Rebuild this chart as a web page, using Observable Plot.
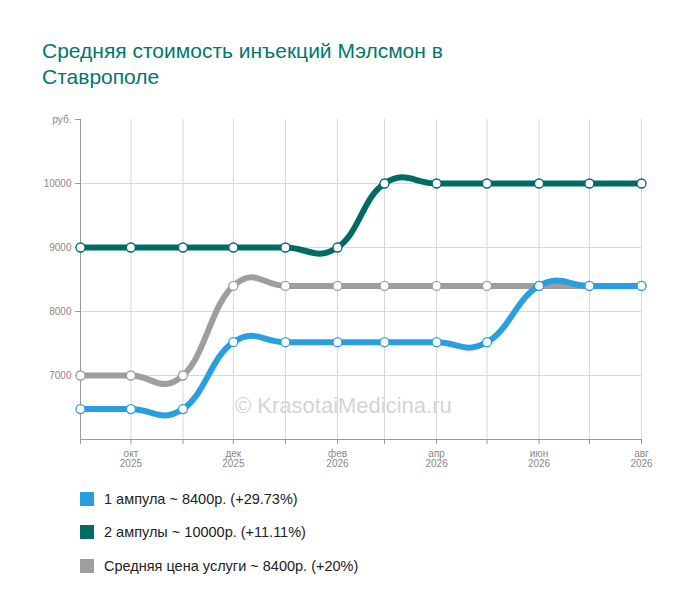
<!DOCTYPE html>
<html><head><meta charset="utf-8">
<script src="https://cdn.jsdelivr.net/npm/d3@7"></script>
<script src="https://cdn.jsdelivr.net/npm/@observablehq/plot@0.6"></script>
<style>
body{margin:0;background:#fff;font-family:Arial,"Liberation Sans",sans-serif;}
#t{position:absolute;left:42px;top:38px;font-size:21px;color:#00776b;line-height:26px;width:520px}
#c{position:absolute;left:0;top:105px}
#wm{position:absolute;left:235px;top:393px;font-size:22px;color:#d4d4d4}
.lg{position:absolute;left:80px;font-size:14.5px;color:#222;display:flex;align-items:center}
.lg span{display:inline-block;width:14px;height:14px;margin-right:10px}
</style></head><body>
<div id="t">Средняя стоимость инъекций Мэлсмон в Ставрополе</div>
<div id="c"></div>
<div id="wm">© KrasotaiMedicina.ru</div>
<div class="lg" style="top:491px"><span style="background:#2a9fdf"></span>1 ампула ~ 8400р. (+29.73%)</div>
<div class="lg" style="top:524px"><span style="background:#006b63"></span>2 ампулы ~ 10000р. (+11.11%)</div>
<div class="lg" style="top:558px"><span style="background:#9e9e9e"></span>Средняя цена услуги ~ 8400р. (+20%)</div>
<script>
const months=["2025-09","2025-10","2025-11","2025-12","2026-01","2026-02","2026-03","2026-04","2026-05","2026-06","2026-07","2026-08"];
const monthNames=["янв","фев","мар","апр","май","июн","июл","авг","сен","окт","ноя","дек"];
const amp1=[6475,6475,6475,7520,7520,7520,7520,7520,7520,8400,8400,8400];
const amp2=[9000,9000,9000,9000,9000,9000,10000,10000,10000,10000,10000,10000];
const avg=[7000,7000,7000,8400,8400,8400,8400,8400,8400,8400,8400,8400];
const yTicks=[7000,8000,9000,10000];
const series=[["amp2",amp2,"#006b63"],["avg",avg,"#9e9e9e"],["amp1",amp1,"#2a9fdf"]];
const dates=months.map(m=>new Date(m+"-01T00:00:00"));
const data=series.flatMap(([k,v,c])=>v.map((y,i)=>({k,x:dates[i],y,c})));
const labeled=dates.filter((d,i)=>i%2==1);
const marks=[
  Plot.ruleX(dates,{x:d=>d,y1:6000,y2:11000,stroke:"#d8d8d8"}),
  Plot.ruleY(yTicks,{y:d=>d,stroke:"#d8d8d8"}),
  Plot.ruleX(dates,{x:d=>d,y1:6000,y2:5920,stroke:"#999"}),
  Plot.ruleX([dates[0]],{x:d=>d,y1:6000,y2:11000,stroke:"#999"}),
  Plot.ruleY([6000],{y:d=>d,stroke:"#999"}),
  Plot.axisY(yTicks,{tickSize:5,stroke:"#999",fill:"#888",fontSize:10,label:null,tickFormat:d=>String(d)}),
  Plot.axisY([11000],{tickSize:5,stroke:"#999",fill:"#888",fontSize:10,label:null,tickFormat:()=>"руб."}),
  Plot.axisX(labeled,{tickSize:0,tickPadding:10,fill:"#888",fontSize:10,label:null,tickFormat:d=>monthNames[d.getMonth()]+"\n"+d.getFullYear()})
];
for(const [k,v,c] of series){
  const d=data.filter(e=>e.k===k);
  marks.push(Plot.line(d,{x:"x",y:"y",stroke:c,strokeWidth:6,curve:"cardinal",tension:-0.3}));
  marks.push(Plot.dot(d,{x:"x",y:"y",r:4.5,fill:"#fff",stroke:c,strokeWidth:1.3}));
}
const p=Plot.plot({width:700,height:370,marginLeft:80,marginRight:59,marginTop:14,marginBottom:36,
  x:{type:"time",domain:[dates[0],dates[11]],axis:null},
  y:{domain:[6000,11000],axis:null},
  style:{fontFamily:"Arial,'Liberation Sans',sans-serif",background:"transparent"},
  marks});
document.getElementById("c").appendChild(p);
</script></body></html>
